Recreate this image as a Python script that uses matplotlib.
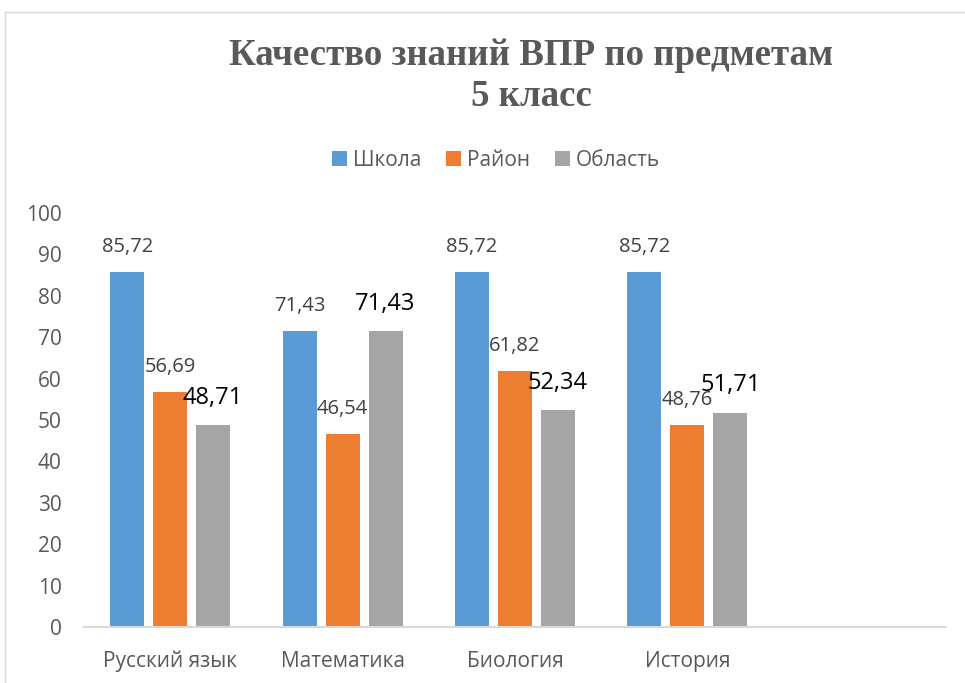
import matplotlib
matplotlib.use("Agg")
import matplotlib.pyplot as plt
from matplotlib.patches import Rectangle
import numpy as np

categories = ["Русский язык", "Математика", "Биология", "История", ""]
series_names = ["Школа", "Район", "Область"]
school = [85.72, 71.43, 85.72, 85.72]
district = [56.69, 46.54, 61.82, 48.76]
region = [48.71, 71.43, 52.34, 51.71]
yticks = [0, 10, 20, 30, 40, 50, 60, 70, 80, 90, 100]

colors = ["#5B9BD5", "#ED7D31", "#A5A5A5"]
txt = "#595959"
font = "Open Sans"

fig = plt.figure(figsize=(9.65, 6.83), dpi=100)
ax = fig.add_axes([84/965, 1-627/683, (946-84)/965, (627-213)/683])

x = np.arange(len(categories))
bw = 0.197
step = 0.249
data = [school, district, region]
for k, (vals, col, name) in enumerate(zip(data, colors, series_names)):
    xs = x[:len(vals)] + (k-1)*step
    bars = ax.bar(xs, vals, width=bw, color=col, label=name)
    for xi, v in zip(xs, vals):
        s = f"{v:.2f}".replace(".", ",")
        if k == 2:
            ax.annotate(s, (xi, v), xytext=(0, 20), textcoords="offset points",
                        ha="center", va="center", fontsize=17, color="black", family=font)
        else:
            ax.annotate(s, (xi, v), xytext=(0, 18), textcoords="offset points",
                        ha="center", va="center", fontsize=14.5, color="#404040", family=font)

ax.set_xlim(-0.5, len(categories)-0.5)
ax.set_ylim(0, 100)
ax.set_yticks(yticks)
ax.set_xticks(x)
ax.set_xticklabels(categories)
for s in ["top", "right", "left"]:
    ax.spines[s].set_visible(False)
ax.spines["bottom"].set_color("#D9D9D9")
ax.spines["bottom"].set_linewidth(1.5)
ax.tick_params(axis="both", length=0, labelsize=15, labelcolor=txt)
ax.tick_params(axis="y", pad=16)
ax.tick_params(axis="x", pad=17)
for lab in ax.get_xticklabels() + ax.get_yticklabels():
    lab.set_family(font)

fig.text(531/965, 1-76/683, "Качество знаний ВПР по предметам\n5 класс",
         ha="center", va="center", multialignment="center", linespacing=1.25,
         fontsize=26.6, fontweight="bold", color=txt, family="Liberation Serif")

fig.legend(loc="center", bbox_to_anchor=(496/965, 1-160/683), ncol=3, frameon=False,
           handlelength=0.7, handleheight=0.75, handletextpad=0.3, columnspacing=1.2,
           prop={"family": font, "size": 15}, labelcolor=txt)

fig.patches.append(Rectangle((5/965, -0.05), 1.1, (683-12)/683+0.05, transform=fig.transFigure,
                             fill=False, edgecolor="#D9D9D9", linewidth=1.0, clip_on=False))

fig.savefig("out.png", dpi=100)
